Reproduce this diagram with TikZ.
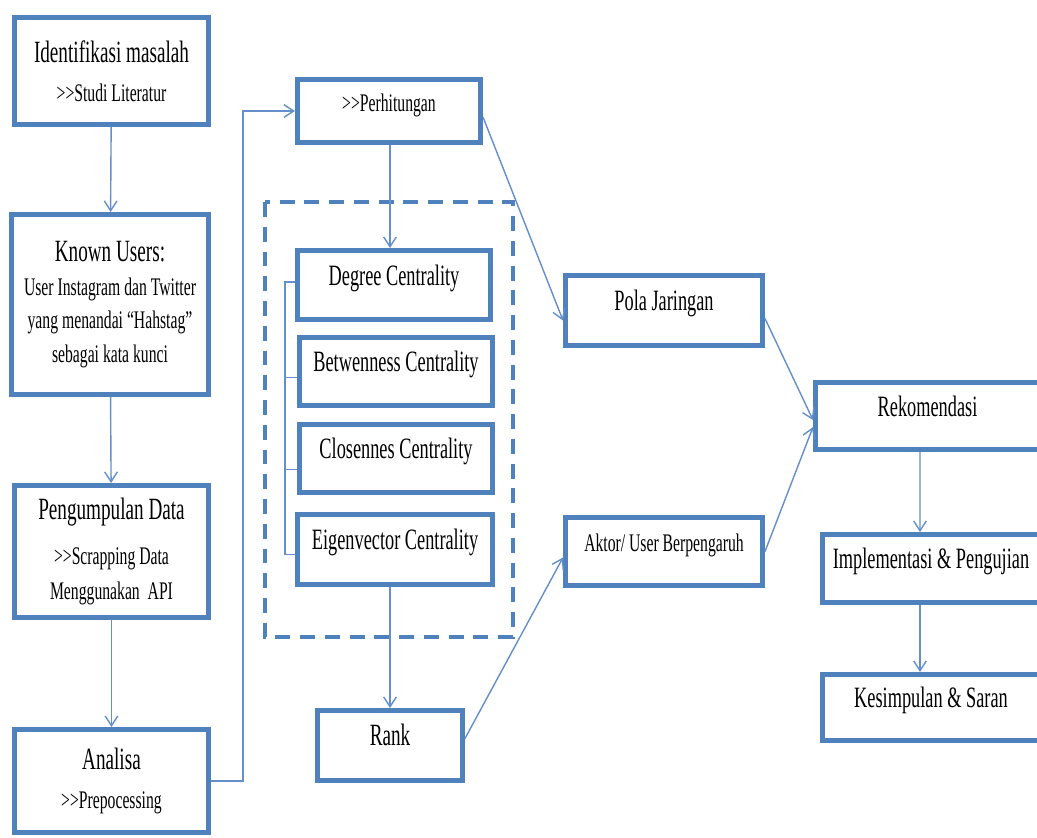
\documentclass[tikz,border=0pt]{standalone}
\usepackage{fontspec}
\setmainfont{Liberation Serif}[FakeStretch=0.62]
\usetikzlibrary{arrows.meta}

\definecolor{boxblue}{RGB}{79,129,189}
\definecolor{linkblue}{RGB}{100,143,203}

\begin{document}
\begin{tikzpicture}[
        x=0.025cm, y=-0.025cm,
        box/.style={rectangle, draw=boxblue, line width=3.5pt, fill=white, align=center,
                    inner sep=0pt, font=\fontsize{18}{24}\selectfont},
        single/.style={text height=14pt, text depth=14pt},
        big/.style={font=\fontsize{22}{26}\selectfont},
        mid/.style={font=\fontsize{21}{25}\selectfont},
        flow/.style={draw=linkblue, line width=1pt, -{Straight Barb[length=7pt,width=9pt]}},
        link/.style={draw=linkblue, line width=1pt},
        group_frame/.style={draw=boxblue, line width=2.8pt, dash pattern=on 10.6pt off 7pt}
    ]
    \useasboundingbox (0,0) rectangle (1037,837);

    % --- Left column ---
    \node[box, minimum width=4.85cm, minimum height=2.675cm] (ident) at (111.5,71)
        {{\fontsize{22}{26}\selectfont Identifikasi masalah}\\[4pt] >{}>Studi Literatur};
    \node[box, minimum width=4.925cm, minimum height=4.5cm] (known) at (110,304.5)
        {{\fontsize{22}{26}\selectfont Known Users:}\\ User Instagram dan Twitter\\ yang menandai “Hahstag”\\ sebagai kata kunci};
    \node[box, minimum width=4.85cm, minimum height=3.3cm] (kumpul) at (111.5,551.5)
        {{\fontsize{22}{26}\selectfont Pengumpulan Data}\\[8pt] >{}>Scrapping Data\\[1pt] Menggunakan~ API};
    \node[box, minimum width=4.85cm, minimum height=2.575cm] (analisa) at (111.5,781)
        {{\fontsize{22}{26}\selectfont Analisa}\\[4pt] >{}>Prepocessing};

    % --- Middle column ---
    \node[box, single, minimum width=4.575cm, minimum height=1.575cm] (hitung) at (389,111) {>{}>Perhitungan};

    \draw[group_frame] (265,202) rectangle (513,637);

    \node[box, single, mid, minimum width=4.825cm, minimum height=1.725cm] (degree) at (394,285) {Degree Centrality};
    \node[box, single, mid, minimum width=4.825cm, minimum height=1.7cm] (betw) at (396,371.5) {Betwenness Centrality};
    \node[box, single, mid, minimum width=4.825cm, minimum height=1.7cm] (close) at (396,458.5) {Closennes Centrality};
    \node[box, single, mid, minimum width=4.875cm, minimum height=1.75cm] (eigen) at (395,549.5) {Eigenvector Centrality};

    \node[box, single, big, minimum width=3.625cm, minimum height=1.75cm] (rank) at (390,745.5) {Rank};

    % --- Results ---
    \node[box, single, mid, minimum width=4.925cm, minimum height=1.75cm] (pola) at (664,310.5) {Pola Jaringan};
    \node[box, single, minimum width=4.925cm, minimum height=1.7cm] (aktor) at (664,551.5) {Aktor/ User Berpengaruh};

    % --- Right column ---
    \node[box, single, mid, minimum width=5.6cm, minimum height=1.675cm] (rekom) at (927.5,416) {Rekomendasi};
    \node[box, single, mid, minimum width=5.425cm, minimum height=1.7cm] (impl) at (931,568.5) {Implementasi \& Pengujian};
    \node[box, single, mid, minimum width=5.425cm, minimum height=1.65cm] (kesim) at (931,707.5) {Kesimpulan \& Saran};

    % --- Connectors ---
    \draw[flow] (ident) -- (known);
    \draw[flow] (known) -- (kumpul);
    \draw[flow] (kumpul) -- (analisa);
    \draw[flow] (analisa.east) -- ++(32,0) |- (hitung.west);

    \draw[flow] ([xshift=0.025cm]hitung.south) -- ([xshift=0.025cm]hitung.south |- degree.north);
    \draw[link] ([yshift=0.075cm]degree.west) -- ++(-10,0) |- ([yshift=-0.125cm]eigen.west);
    \draw[link] ([yshift=-0.15cm]betw.west) -- ++(-12,0);
    \draw[link] ([yshift=-0.275cm]close.west) -- ++(-12,0);
    \draw[flow] (rank.north |- eigen.south) -- (rank.north);

    \draw[flow] ([yshift=-0.15cm]hitung.east) -- ([yshift=-0.25cm]pola.west);
    \draw[flow] ([yshift=0.175cm]rank.east) -- ([yshift=-0.15cm]aktor.west);
    \draw[flow] ([yshift=-0.2cm]pola.east) -- ([yshift=-0.1cm]rekom.west);
    \draw[flow] (aktor.east) -- ([yshift=-0.275cm]rekom.west);

    \draw[flow] ([xshift=-0.1875cm]rekom.south) -- ([xshift=-0.275cm]impl.north);
    \draw[flow] ([xshift=-0.275cm]impl.south) -- ([xshift=-0.275cm]kesim.north);

\end{tikzpicture}
\end{document}
